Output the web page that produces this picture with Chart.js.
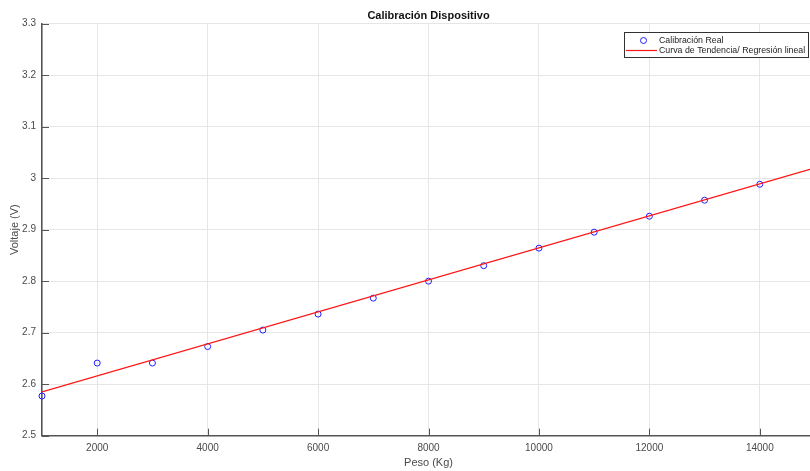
<!DOCTYPE html>
<html>
<head>
<meta charset="utf-8">
<script src="https://cdn.jsdelivr.net/npm/chart.js@4/dist/chart.umd.min.js"></script>
<style>
  html, body { margin: 0; padding: 0; overflow: hidden; background: #fff; }
  #wrap { width: 810px; height: 471px; overflow: hidden; }
  canvas { display: block; }
</style>
</head>
<body>
<div id="wrap"><canvas id="c" width="819" height="471" style="width:819px;height:471px"></canvas></div>
<script>
// Measured calibration points: load (kg) vs output voltage (V)
const pesoKg = [1000, 2000, 3000, 4000, 5000, 6000, 7000, 8000, 9000, 10000, 11000, 12000, 13000, 14000];
const voltaje = [2.577, 2.641, 2.641, 2.673, 2.705, 2.736, 2.767, 2.800, 2.830, 2.864, 2.895, 2.926, 2.957, 2.988];

// Linear regression fitted line, evaluated at the ends of the x range
const tendenciaX = [1000, 15000];
const tendenciaY = [2.585, 3.020];

// Axis ranges and tick labels
const xRange = [1000, 15000];
const yRange = [2.5, 3.3];
const xTicks = [2000, 4000, 6000, 8000, 10000, 12000, 14000];
const yTicks = [2.5, 2.6, 2.7, 2.8, 2.9, 3.0, 3.1, 3.2, 3.3];
const yTickLabels = ['2.5', '2.6', '2.7', '2.8', '2.9', '3', '3.1', '3.2', '3.3'];

const titulo = 'Calibración Dispositivo';
const xTitulo = 'Peso (Kg)';
const yTitulo = 'Voltaje (V)';
const serieReal = 'Calibración Real';
const serieTendencia = 'Curva de Tendencia/ Regresión lineal';

const AXIS = '#555555';
const TEXT = '#4a4a4a';
const GRID = '#e6e6e6';
const BLUE = 'rgb(30,30,255)';
const RED = 'rgb(255,20,20)';

Chart.defaults.font.family = "'Liberation Sans', Arial, sans-serif";
Chart.defaults.color = TEXT;

// Inward tick marks on the bottom and left axes
const innerTicks = {
  id: 'innerTicks',
  afterDatasetsDraw(chart) {
    const { ctx, chartArea, scales } = chart;
    const len = 7;
    ctx.save();
    ctx.strokeStyle = AXIS;
    ctx.lineWidth = 1;
    ctx.beginPath();
    scales.x.ticks.forEach(t => {
      const px = Math.round(scales.x.getPixelForValue(t.value)) + 0.5;
      ctx.moveTo(px, chartArea.bottom);
      ctx.lineTo(px, chartArea.bottom - len);
    });
    scales.y.ticks.forEach(t => {
      const py = Math.round(scales.y.getPixelForValue(t.value)) + 0.5;
      ctx.moveTo(chartArea.left, py);
      ctx.lineTo(chartArea.left + len, py);
    });
    ctx.stroke();
    ctx.restore();
  }
};

// Boxed legend in the upper right corner of the axes
const boxLegend = {
  id: 'boxLegend',
  afterDraw(chart) {
    const { ctx, chartArea } = chart;
    const ds = chart.data.datasets;
    ctx.save();
    ctx.font = "8.8px 'Liberation Sans', Arial, sans-serif";
    const textX = 35;
    const w = Math.round(Math.max(...ds.map(d => ctx.measureText(d.label).width)) + textX + 3);
    const h = 25;
    const right = chartArea.right - 7;
    const left = Math.round(right - w);
    const top = Math.round(chartArea.top + 8);
    ctx.fillStyle = '#fff';
    ctx.fillRect(left, top, w, h);
    ctx.strokeStyle = '#333';
    ctx.lineWidth = 1;
    ctx.strokeRect(left + 0.5, top + 0.5, w, h);
    const rows = [top + 8.5, top + 18.5];
    // scatter marker
    ctx.strokeStyle = BLUE;
    ctx.lineWidth = 1;
    ctx.beginPath();
    ctx.arc(left + 19.5, rows[0], 3, 0, Math.PI * 2);
    ctx.stroke();
    // line sample
    ctx.strokeStyle = RED;
    ctx.lineWidth = 1.2;
    ctx.beginPath();
    ctx.moveTo(left + 2, rows[1]);
    ctx.lineTo(left + 33, rows[1]);
    ctx.stroke();
    ctx.fillStyle = '#222';
    ctx.textBaseline = 'middle';
    ctx.textAlign = 'left';
    ctx.fillText(ds[0].label, left + textX, rows[0]);
    ctx.fillText(ds[1].label, left + textX, rows[1]);
    ctx.restore();
  }
};

new Chart(document.getElementById('c'), {
  type: 'scatter',
  data: {
    datasets: [
      {
        label: serieReal,
        data: pesoKg.map((x, i) => ({ x, y: voltaje[i] })),
        borderColor: BLUE,
        backgroundColor: 'rgba(0,0,0,0)',
        pointRadius: 3,
        pointBorderWidth: 1,
        pointHoverRadius: 3,
        showLine: false,
        clip: false,
        order: 2
      },
      {
        label: serieTendencia,
        data: tendenciaX.map((x, i) => ({ x, y: tendenciaY[i] })),
        borderColor: RED,
        borderWidth: 1.2,
        pointRadius: 0,
        showLine: true,
        order: 1
      }
    ]
  },
  options: {
    responsive: false,
    animation: false,
    devicePixelRatio: 1,
    layout: { padding: { left: 0, right: 1, top: 0, bottom: 0 } },
    plugins: {
      legend: { display: false },
      tooltip: { enabled: false },
      title: {
        display: true,
        text: titulo,
        fullSize: false,
        color: '#111',
        font: { size: 11, weight: 'bold' },
        padding: { top: 9, bottom: 1.3 }
      }
    },
    scales: {
      x: {
        type: 'linear',
        min: xRange[0],
        max: xRange[1],
        afterBuildTicks: s => { s.ticks = xTicks.map(v => ({ value: v })); },
        afterFit: s => { s.height = 35.3; },
        ticks: { color: TEXT, font: { size: 10 }, padding: 6.5, maxRotation: 0, callback: v => String(v) },
        grid: { color: GRID, drawTicks: false },
        border: { color: AXIS, width: 1.6 },
        title: { display: true, text: xTitulo, color: TEXT, font: { size: 11 }, padding: { top: 0, bottom: 1.5 } }
      },
      y: {
        type: 'linear',
        min: yRange[0],
        max: yRange[1],
        afterBuildTicks: s => { s.ticks = yTicks.map(v => ({ value: v })); },
        afterFit: s => { s.width = 42; },
        ticks: {
          color: TEXT,
          font: { size: 10 },
          padding: 6,
          callback: (v) => yTickLabels[yTicks.findIndex(t => Math.abs(t - v) < 1e-9)]
        },
        grid: { color: GRID, drawTicks: false },
        border: { color: AXIS, width: 1.6 },
        title: { display: true, text: yTitulo, color: TEXT, font: { size: 11 }, padding: { top: 8, bottom: 0 } }
      }
    }
  },
  plugins: [innerTicks, boxLegend]
});
</script>
</body>
</html>
